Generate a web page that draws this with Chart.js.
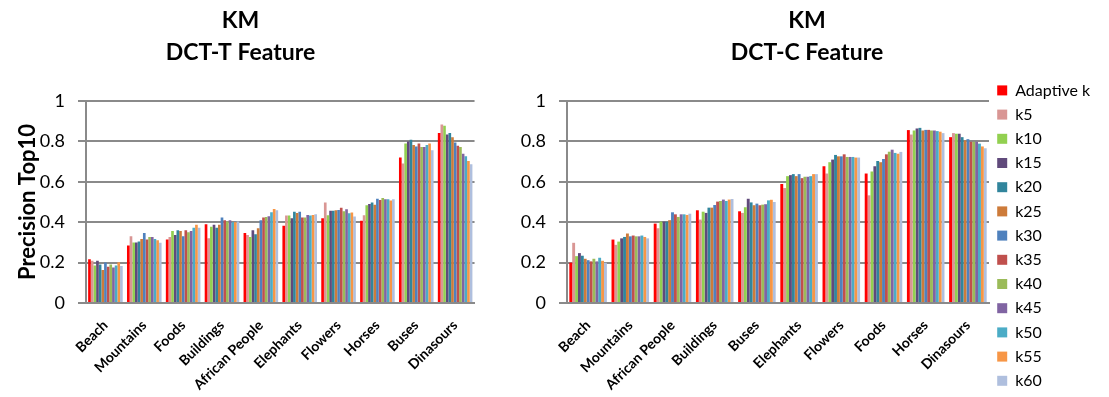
<!DOCTYPE html>
<html>
<head>
<meta charset="utf-8">
<script src="https://cdn.jsdelivr.net/npm/chart.js@4/dist/chart.umd.min.js"></script>
<style>
  body { margin: 0; background: #fff; }
  canvas { position: absolute; top: 0; }
  #chartT { left: 0; }
  #chartC { left: 520px; }
</style>
</head>
<body>
<canvas id="chartT" width="481" height="397"></canvas>
<canvas id="chartC" width="574" height="397"></canvas>
<script>
const FONT = "Lato, 'DejaVu Sans', sans-serif";
const GRID = "#8a8a8a";

const seriesNames = ["Adaptive k", "k5", "k10", "k15", "k20", "k25", "k30", "k35", "k40", "k45", "k50", "k55", "k60"];
const seriesColors = ["#ff0000", "#d99694", "#92d050", "#604a7b", "#31859c", "#cd7b3a", "#4f81bd",
                      "#c0504d", "#9bbb59", "#8064a2", "#4bacc6", "#f79646", "#afbfde"];

// DCT-T feature
const catsT = ["Beach", "Mountains", "Foods", "Buildings", "African People", "Elephants", "Flowers", "Horses", "Buses", "Dinasours"];
const tAdaptive = [0.217, 0.285, 0.314, 0.390, 0.347, 0.383, 0.420, 0.407, 0.720, 0.841];
const tK5  = [0.209, 0.330, 0.327, 0.320, 0.337, 0.433, 0.498, 0.434, 0.690, 0.884];
const tK10 = [0.186, 0.300, 0.357, 0.377, 0.327, 0.433, 0.434, 0.484, 0.789, 0.877];
const tK15 = [0.209, 0.300, 0.337, 0.387, 0.360, 0.420, 0.457, 0.490, 0.800, 0.834];
const tK20 = [0.190, 0.304, 0.360, 0.373, 0.340, 0.452, 0.457, 0.497, 0.808, 0.841];
const tK25 = [0.163, 0.317, 0.357, 0.387, 0.370, 0.446, 0.459, 0.487, 0.782, 0.821];
const tK30 = [0.200, 0.347, 0.330, 0.423, 0.410, 0.452, 0.460, 0.516, 0.775, 0.795];
const tK35 = [0.180, 0.314, 0.360, 0.410, 0.423, 0.423, 0.472, 0.510, 0.789, 0.779];
const tK40 = [0.190, 0.327, 0.350, 0.403, 0.426, 0.423, 0.454, 0.520, 0.772, 0.772];
const tK45 = [0.176, 0.327, 0.357, 0.410, 0.430, 0.436, 0.464, 0.513, 0.772, 0.739];
const tK50 = [0.186, 0.317, 0.373, 0.400, 0.449, 0.433, 0.444, 0.513, 0.782, 0.726];
const tK55 = [0.202, 0.311, 0.387, 0.400, 0.465, 0.436, 0.448, 0.507, 0.789, 0.703];
const tK60 = [0.183, 0.298, 0.373, 0.403, 0.459, 0.439, 0.428, 0.513, 0.756, 0.687];

// DCT-C feature
const catsC = ["Beach", "Mountains", "African People", "Buildings", "Buses", "Elephants", "Flowers", "Foods", "Horses", "Dinasours"];
const cAdaptive = [0.200, 0.314, 0.393, 0.459, 0.454, 0.589, 0.677, 0.641, 0.856, 0.821];
const cK5  = [0.298, 0.288, 0.370, 0.413, 0.446, 0.569, 0.641, 0.533, 0.834, 0.841];
const cK10 = [0.232, 0.304, 0.403, 0.452, 0.474, 0.628, 0.697, 0.651, 0.854, 0.838];
const cK15 = [0.247, 0.320, 0.403, 0.446, 0.516, 0.633, 0.710, 0.677, 0.864, 0.838];
const cK20 = [0.234, 0.327, 0.403, 0.472, 0.498, 0.638, 0.733, 0.703, 0.867, 0.821];
const cK25 = [0.219, 0.344, 0.410, 0.472, 0.484, 0.628, 0.726, 0.697, 0.854, 0.805];
const cK30 = [0.212, 0.330, 0.449, 0.485, 0.492, 0.638, 0.726, 0.713, 0.857, 0.811];
const cK35 = [0.206, 0.334, 0.439, 0.502, 0.484, 0.618, 0.736, 0.736, 0.857, 0.798];
const cK40 = [0.219, 0.330, 0.426, 0.505, 0.487, 0.625, 0.723, 0.749, 0.854, 0.798];
const cK45 = [0.206, 0.330, 0.439, 0.512, 0.489, 0.625, 0.723, 0.759, 0.854, 0.798];
const cK50 = [0.224, 0.334, 0.439, 0.505, 0.508, 0.628, 0.723, 0.743, 0.851, 0.789];
const cK55 = [0.209, 0.327, 0.436, 0.512, 0.511, 0.638, 0.720, 0.739, 0.848, 0.775];
const cK60 = [0.199, 0.320, 0.442, 0.515, 0.500, 0.638, 0.720, 0.748, 0.841, 0.766];

const valuesT = [tAdaptive, tK5, tK10, tK15, tK20, tK25, tK30, tK35, tK40, tK45, tK50, tK55, tK60];
const valuesC = [cAdaptive, cK5, cK10, cK15, cK20, cK25, cK30, cK35, cK40, cK45, cK50, cK55, cK60];

function makeChart(id, subtitle, labels, values, opts) {
  return new Chart(document.getElementById(id), {
    type: "bar",
    data: {
      labels: labels,
      datasets: seriesNames.map((name, i) => ({
        label: name,
        data: values[i],
        backgroundColor: seriesColors[i],
        borderWidth: 0,
        categoryPercentage: 0.89,
        barPercentage: 1.0
      }))
    },
    options: {
      responsive: false,
      animation: false,
      devicePixelRatio: 1,
      layout: { padding: 0 },
      plugins: {
        title: {
          display: true,
          text: ["KM", subtitle],
          color: "#000",
          font: { family: FONT, size: 23, weight: "bold", lineHeight: 32 / 23 },
          padding: { top: 5, bottom: 32 }
        },
        legend: {
          display: opts.legend,
          position: "right",
          align: "end",
          // fixed width keeps the plot edge put; labels may run past it
          maxWidth: 105,
          labels: {
            boxWidth: 10,
            boxHeight: 10,
            padding: 8.2,
            color: "#000",
            font: { family: FONT, size: 16 }
          }
        },
        tooltip: { enabled: false }
      },
      scales: {
        x: {
          grid: { display: false, drawTicks: false },
          border: { display: true, color: GRID, width: 2 },
          ticks: {
            color: "#000",
            autoSkip: false,
            minRotation: 45,
            maxRotation: 45,
            padding: 14,
            font: { family: FONT, size: 14, weight: "bold" }
          },
          afterFit: s => { s.height = 94; }
        },
        y: {
          min: 0,
          max: 1,
          ticks: {
            stepSize: 0.2,
            color: "#000",
            padding: 13,
            font: { family: FONT, size: 18 },
            callback: v => String(Number(v.toFixed(1)))
          },
          grid: { color: GRID, lineWidth: 2, tickLength: 8 },
          border: { color: GRID, width: 2 },
          title: {
            display: opts.yTitle,
            text: "Precision Top10",
            color: "#000",
            font: { family: FONT, size: 22, weight: "bold" },
            padding: { top: 15, bottom: 0 }
          },
          afterFit: s => { s.width = opts.yWidth; }
        }
      }
    }
  });
}

makeChart("chartT", "DCT-T Feature", catsT, valuesT, { legend: false, yTitle: true, yWidth: 86 });
makeChart("chartC", "DCT-C Feature", catsC, valuesC, { legend: true, yTitle: false, yWidth: 47 });
</script>
</body>
</html>
